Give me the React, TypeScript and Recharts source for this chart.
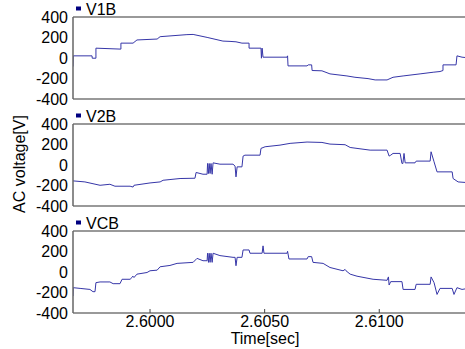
import { LineChart, Line, XAxis, YAxis, ReferenceLine } from 'recharts'

// time [sec] / voltage [V] samples
const V1B_TIME = [
  2.59664, 2.59665, 2.59747, 2.59748, 2.59764, 2.59764, 2.59869, 2.59873, 2.59873, 2.59926,
  2.59943, 2.60031, 2.60044, 2.60161, 2.60188, 2.60249, 2.60318, 2.60349, 2.60375, 2.60401,
  2.60432, 2.60432, 2.60484, 2.60486, 2.60489, 2.60493, 2.60598, 2.606, 2.60602, 2.60685,
  2.6069, 2.60705, 2.60707, 2.6075, 2.60785, 2.60859, 2.60894, 2.60951, 2.60982, 2.61034,
  2.6106, 2.61104, 2.61178, 2.61235, 2.61265, 2.61278, 2.61278, 2.61335, 2.61339, 2.61361,
  2.61374,
]
const V1B_VALUES = [
  -83, 21, 21, -2, -2, 96, 87, 87, 145, 145,
  176, 185, 208, 228, 230, 201, 165, 162, 158, 145,
  145, 96, 96, -2, 96, 8, 8, 21, -77, -77,
  -67, -67, -122, -125, -155, -175, -188, -201, -214, -214,
  -188, -175, -155, -139, -132, -122, -67, -67, 21, 8,
  5,
]

const V2B_TIME = [
  2.59664, 2.59716, 2.59782, 2.59825, 2.59847, 2.59913, 2.59926, 2.5993, 2.6, 2.60044,
  2.60057, 2.60087, 2.60131, 2.60196, 2.60201, 2.60231, 2.60249, 2.60251, 2.60255, 2.60258,
  2.60262, 2.60266, 2.60271, 2.60275, 2.60305, 2.60362, 2.60371, 2.60375, 2.6038, 2.60401,
  2.60406, 2.60414, 2.6048, 2.60484, 2.60502, 2.60567, 2.60611, 2.60685, 2.6075, 2.60785,
  2.60851, 2.60873, 2.60916, 2.6096, 2.61034, 2.61043, 2.6105, 2.6106, 2.61091, 2.61099,
  2.61103, 2.61108, 2.61113, 2.61156, 2.61161, 2.61222, 2.61226, 2.61239, 2.61252, 2.61318,
  2.61322, 2.61344, 2.61374,
]
const V2B_VALUES = [
  -155, -165, -198, -188, -207, -207, -215, -198, -175, -165,
  -149, -142, -132, -129, -73, -90, -90, 15, -83, 15,
  -83, 15, -90, 21, 8, 8, -11, -116, -18, -18,
  87, 96, 96, 162, 178, 194, 211, 224, 220, 204,
  198, 171, 158, 145, 145, 87, 96, 113, 113, 15,
  15, 113, 21, 21, 38, 38, 129, 31, -67, -67,
  -132, -165, -170,
]

const VCB_TIME = [
  2.59664, 2.59665, 2.59695, 2.59738, 2.59751, 2.5976, 2.59764, 2.59782, 2.59825, 2.59839,
  2.59869, 2.59878, 2.59913, 2.59921, 2.59925, 2.5993, 2.59943, 2.59987, 2.6, 2.60031,
  2.60044, 2.60087, 2.60118, 2.60188, 2.60205, 2.60231, 2.60249, 2.60251, 2.60255, 2.60258,
  2.60262, 2.60266, 2.60271, 2.60275, 2.60305, 2.60362, 2.60371, 2.60375, 2.6038, 2.60401,
  2.60406, 2.60432, 2.60436, 2.60489, 2.60493, 2.60497, 2.60598, 2.606, 2.60606, 2.60685,
  2.6069, 2.60705, 2.60711, 2.60755, 2.60785, 2.60842, 2.60851, 2.60855, 2.60873, 2.60903,
  2.60973, 2.61034, 2.6104, 2.61043, 2.6105, 2.61099, 2.61104, 2.61156, 2.61161, 2.61222,
  2.61226, 2.61239, 2.61252, 2.61265, 2.61318, 2.61326, 2.61339, 2.61361, 2.61374,
]
const VCB_VALUES = [
  -235, -153, -160, -170, -192, -192, -104, -97, -97, -114,
  -114, -71, -71, -54, -40, -54, -21, -5, 12, 18,
  51, 64, 84, 94, 133, 110, 110, 183, 94, 183,
  94, 183, 94, 183, 160, 143, 143, 61, 143, 143,
  215, 215, 183, 183, 255, 183, 183, 202, 127, 127,
  150, 150, 94, 84, 44, 12, 25, 12, -21, -41,
  -71, -81, -48, -127, -94, -94, -170, -170, -120, -120,
  -48, -104, -219, -160, -160, -219, -153, -170, -165,
]

const X_DOMAIN = [2.59664, 2.61374]
const X_TICKS = [2.6, 2.605, 2.61]
const Y_TICKS = [-400, -200, 0, 200, 400]

const panels = [
  { name: 'V1B', top: 17, time: V1B_TIME, values: V1B_VALUES },
  { name: 'V2B', top: 124, time: V2B_TIME, values: V2B_VALUES },
  { name: 'VCB', top: 231, time: VCB_TIME, values: VCB_VALUES },
]

const FONT = '"Liberation Sans", Arial, Helvetica, sans-serif'
const LINE_COLOR = '#3636a8'
const PLOT_H = 82
const PAD = 12

const TimeTick = ({ x, y, payload }: any) => (
  <g>
    <line x1={x} x2={x} y1={y - 4} y2={y} stroke="#444" />
    <text x={x} y={y + 14} textAnchor="middle" fontSize={16} fill="#000" fontFamily={FONT}>
      {Number(payload.value).toFixed(4)}
    </text>
  </g>
)

function Panel({ panel, last }: { panel: typeof panels[number]; last: boolean }) {
  const data = panel.time.map((t, i) => ({ t, v: panel.values[i] }))
  const xh = last ? 36 : 1
  const bottom = last ? 0 : PAD
  return (
    <div style={{ position: 'absolute', left: 0, top: panel.top - PAD }}>
      <LineChart
        width={465}
        height={PAD + PLOT_H + xh + bottom}
        data={data}
        margin={{ top: PAD, right: 0, bottom, left: 0 }}
      >
        <XAxis
          dataKey="t"
          type="number"
          domain={X_DOMAIN}
          ticks={X_TICKS}
          allowDataOverflow
          height={xh}
          axisLine={{ stroke: '#999', strokeWidth: 2 }}
          tickLine={false}
          tickSize={0}
          tickMargin={0}
          tick={last ? <TimeTick /> : false}
        />
        <YAxis
          type="number"
          domain={[-400, 400]}
          ticks={Y_TICKS}
          allowDataOverflow
          width={73}
          axisLine={{ stroke: '#666', strokeWidth: 1.5 }}
          tickLine={false}
          tickSize={0}
          tickMargin={5}
          interval={0}
          tick={{ fontSize: 16, fill: '#000', fontFamily: FONT }}
        />
        <ReferenceLine y={400} stroke="#999" strokeWidth={2} />
        <Line
          dataKey="v"
          type="linear"
          stroke={LINE_COLOR}
          strokeWidth={1}
          dot={false}
          isAnimationActive={false}
        />
      </LineChart>
    </div>
  )
}

export default function App() {
  return (
    <div
      style={{
        position: 'absolute',
        left: 0,
        top: 0,
        width: 465,
        height: 349,
        overflow: 'hidden',
        background: '#fff',
        fontFamily: FONT,
      }}
    >
      {panels.map((p, i) => (
        <Panel key={p.name} panel={p} last={i === panels.length - 1} />
      ))}
      <svg
        width={465}
        height={349}
        style={{ position: 'absolute', left: 0, top: 0, pointerEvents: 'none' }}
      >
        {panels.map((p) => (
          <g key={p.name}>
            <rect x={76} y={p.top - 10.5} width={5} height={4} fill="#000080" />
            <text x={86} y={p.top - 2.5} fontSize={16} fill="#000" fontFamily={FONT}>
              {p.name}
            </text>
          </g>
        ))}
        <text
          transform="translate(25,164) rotate(-90)"
          textAnchor="middle"
          fontSize={16}
          fill="#000"
          fontFamily={FONT}
        >
          AC voltage[V]
        </text>
        <text x={265} y={344} textAnchor="middle" fontSize={16} fill="#000" fontFamily={FONT}>
          Time[sec]
        </text>
      </svg>
    </div>
  )
}
